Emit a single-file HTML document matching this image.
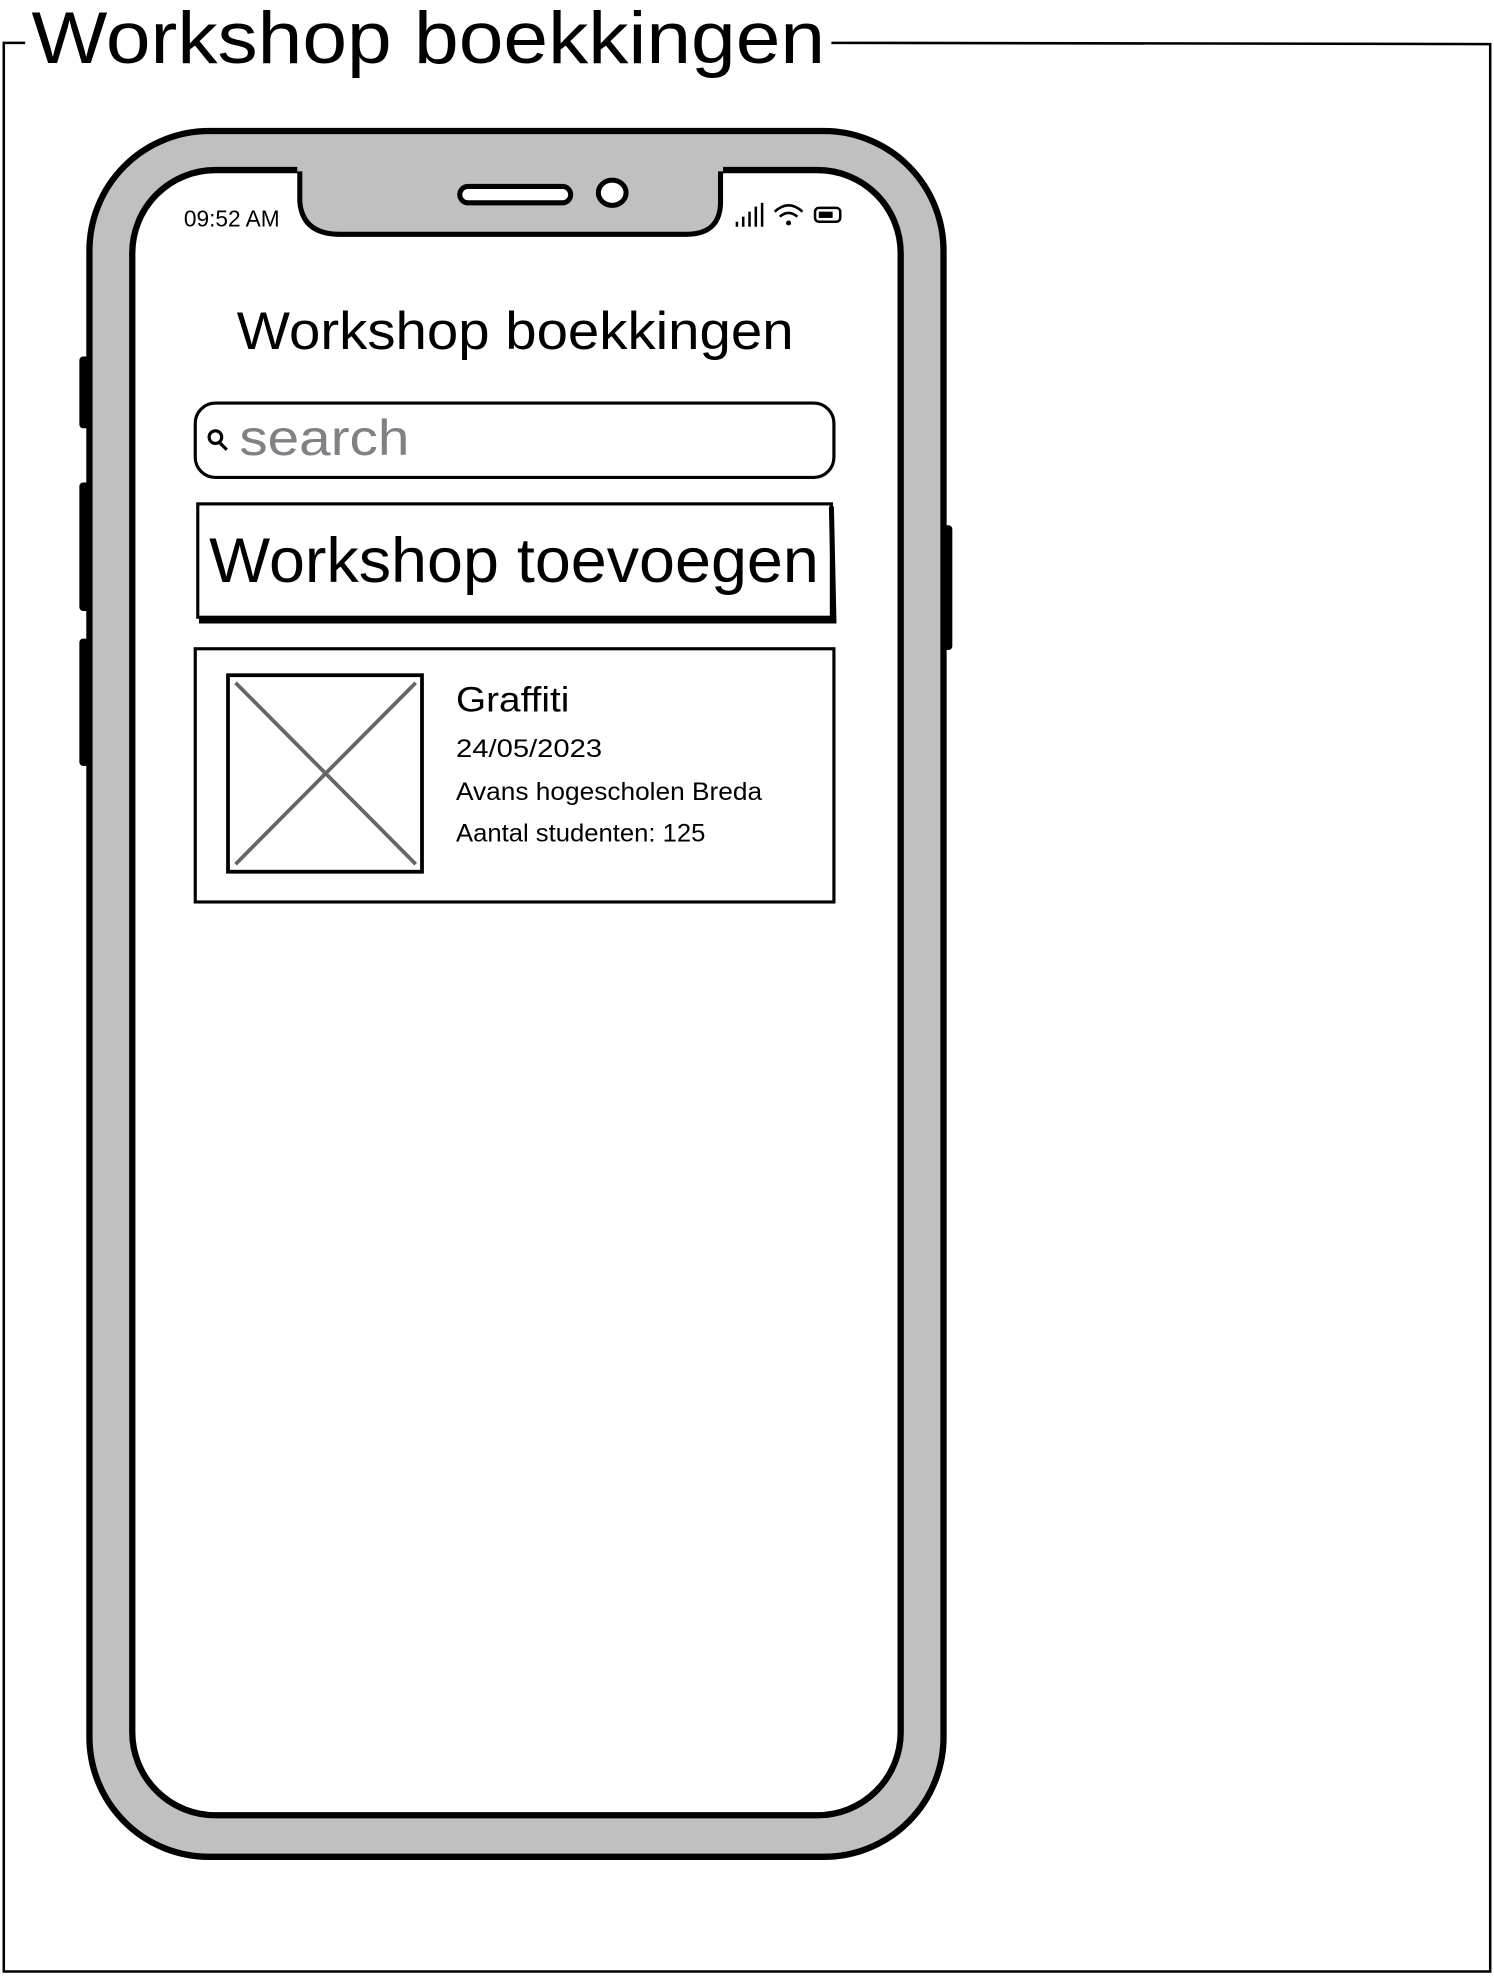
<!DOCTYPE html>
<html><head><meta charset="utf-8"><style>
html,body{margin:0;padding:0;background:#fff;}
svg{display:block;}
text{font-family:"Liberation Sans",sans-serif;}
</style></head><body>
<svg width="1494" height="1976" viewBox="0 0 1186 1568.6" preserveAspectRatio="none" xmlns="http://www.w3.org/2000/svg">
<rect width="1186" height="1568.6" fill="#fff"/>
<path d="M660 34 L1183 35 L1183 1565 L3 1565 L3 34 L20 34" fill="none" stroke="#000" stroke-width="2"/>
<text x="25" y="50" font-size="58" textLength="630" lengthAdjust="spacingAndGlyphs">Workshop boekkingen</text>
<rect x="63" y="283" width="9" height="57" rx="3" fill="#000"/>
<rect x="63" y="383" width="9" height="102" rx="3" fill="#000"/>
<rect x="63" y="507" width="9" height="101" rx="3" fill="#000"/>
<rect x="747" y="417" width="9" height="99" rx="3" fill="#000"/>
<rect x="71" y="104" width="678" height="1370" rx="95" fill="#c0c0c0" stroke="#000" stroke-width="5"/>
<rect x="105" y="135" width="610" height="1306" rx="66" fill="#fff" stroke="#000" stroke-width="5"/>
<path d="M236 128 L236 160 Q238 186 270 186 L545 186 Q574 186 574 160 L574 128 Z" fill="#c0c0c0"/>
<path d="M238 136 L238 160 Q240 186 270 186 L545 186 Q572 186 572 160 L572 136" fill="none" stroke="#000" stroke-width="4"/>
<rect x="365" y="148" width="88" height="13" rx="6.5" fill="#fff" stroke="#000" stroke-width="4"/>
<ellipse cx="486" cy="153" rx="11" ry="10" fill="#fff" stroke="#000" stroke-width="4"/>
<text x="146" y="180" font-size="18">09:52 AM</text>
<g stroke="#000" stroke-width="2">
<line x1="585" y1="180" x2="585" y2="176"/><line x1="590" y1="180" x2="590" y2="172"/><line x1="595" y1="180" x2="595" y2="168"/><line x1="600" y1="180" x2="600" y2="164"/><line x1="605" y1="180" x2="605" y2="161"/>
</g>
<path d="M615 168 Q626 158 637 168 M619 172 Q626 166 633 172" fill="none" stroke="#000" stroke-width="2"/>
<circle cx="626" cy="177" r="2" fill="#000"/>
<rect x="647" y="165" width="20" height="11" rx="3" fill="none" stroke="#000" stroke-width="2"/>
<rect x="650" y="168" width="11" height="5" fill="#000"/>
<text x="188" y="277" font-size="42" textLength="442" lengthAdjust="spacingAndGlyphs">Workshop boekkingen</text>
<rect x="155" y="320" width="507" height="59" rx="16" fill="#fff" stroke="#000" stroke-width="2.5"/>
<circle cx="171" cy="347" r="5" fill="none" stroke="#000" stroke-width="2.5"/>
<line x1="174" y1="351" x2="180" y2="357" stroke="#000" stroke-width="2.5"/>
<text x="190" y="361" font-size="40" fill="#808085" textLength="135" lengthAdjust="spacingAndGlyphs">search</text>
<rect x="157" y="400" width="503" height="90" fill="#fff" stroke="#000" stroke-width="2.5"/>
<path d="M660 402 L662 493 L158 493" fill="none" stroke="#000" stroke-width="4"/>
<text x="166" y="462" font-size="50" textLength="484" lengthAdjust="spacingAndGlyphs">Workshop toevoegen</text>
<rect x="155" y="515" width="507" height="201" fill="#fff" stroke="#000" stroke-width="2.5"/>
<rect x="181" y="536" width="154" height="156" fill="#fff" stroke="#000" stroke-width="3"/>
<line x1="187" y1="542" x2="330" y2="686" stroke="#666" stroke-width="3"/>
<line x1="330" y1="542" x2="187" y2="686" stroke="#666" stroke-width="3"/>
<text x="362" y="565" font-size="28" textLength="90" lengthAdjust="spacingAndGlyphs">Graffiti</text>
<text x="362" y="601" font-size="20" textLength="116" lengthAdjust="spacingAndGlyphs">24/05/2023</text>
<text x="362" y="635" font-size="20" textLength="243" lengthAdjust="spacingAndGlyphs">Avans hogescholen Breda</text>
<text x="362" y="668" font-size="20" textLength="198" lengthAdjust="spacingAndGlyphs">Aantal studenten: 125</text>
</svg>
</body></html>
